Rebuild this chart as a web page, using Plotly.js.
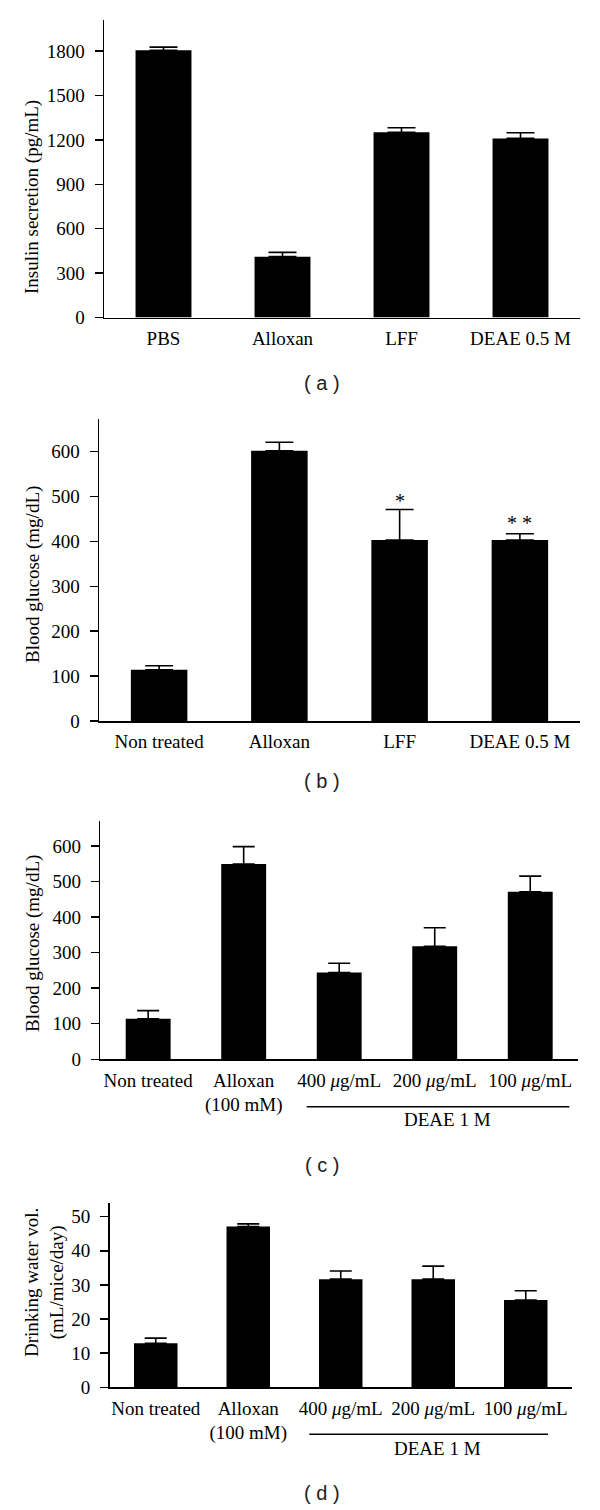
<!DOCTYPE html>
<html>
<head>
<meta charset="utf-8">
<script src="https://cdn.plot.ly/plotly-3.0.1.min.js"></script>
<style>html,body{margin:0;padding:0;background:#fff;}</style>
</head>
<body>
<div id="chart" style="width:600px;height:1510px;"></div>
<script>
// ---- Data ----
const catsA = ["PBS", "Alloxan", "LFF", "DEAE 0.5 M"];
const insulin = [1805, 411, 1251, 1210];
const insulinErr = [22, 29, 31, 38];

const catsB = ["Non treated", "Alloxan", "LFF", "DEAE 0.5 M"];
const glucoseB = [114, 602, 403, 403];
const glucoseBErr = [9, 19, 68, 14];
const starsB = ["", "", "*", "* *"];
const starsBY = [null, null, 490, 440];

const catsC = ["Non treated", "Alloxan<br>(100 mM)", "400 <i>μ</i>g/mL", "200 <i>μ</i>g/mL", "100 <i>μ</i>g/mL"];
const glucoseC = [114, 549, 244, 318, 471];
const glucoseCErr = [23, 49, 26, 52, 44];

const catsD = ["Non treated", "Alloxan<br>(100 mM)", "400 <i>μ</i>g/mL", "200 <i>μ</i>g/mL", "100 <i>μ</i>g/mL"];
const water = [12.9, 47.1, 31.7, 31.7, 25.6];
const waterErr = [1.5, 0.8, 2.4, 3.8, 2.7];

const groupLabel = "DEAE 1 M";
const panelLabels = ["( a )", "( b )", "( c )", "( d )"];
const yTitles = ["Insulin secretion (pg/mL)", "Blood glucose (mg/dL)", "Blood glucose (mg/dL)", "Drinking water vol.<br>(mL/mice/day)"];

// ---- Layout helpers ----
const W = 600, H = 1510;
const fx = px => px / W;
const fy = px => 1 - px / H;
const SERIF = "Liberation Serif, Times New Roman, serif";
const tickFont = {family: SERIF, size: 19, color: "#000"};

function barTrace(x, y, err, xa, ya, capw) {
  return {
    type: "bar", x: x, y: y, xaxis: xa, yaxis: ya,
    marker: {color: "#000", line: {width: 0}},
    error_y: {type: "data", symmetric: false, array: err, arrayminus: err.map(() => 0),
              color: "#000", thickness: 1.6, width: capw, visible: true},
    hoverinfo: "x+y", showlegend: false
  };
}

const traces = [
  barTrace(catsA, insulin, insulinErr, "x", "y", 14),
  barTrace(catsB, glucoseB, glucoseBErr, "x2", "y2", 14),
  barTrace(catsC, glucoseC, glucoseCErr, "x3", "y3", 11),
  barTrace(catsD, water, waterErr, "x4", "y4", 11)
];

function xAxis(domPx, anchor, n) {
  return {
    domain: [fx(domPx[0]), fx(domPx[1])], anchor: anchor, type: "category",
    range: [-0.5, n - 0.5], showline: true, linecolor: "#000", linewidth: 1.5,
    ticks: "", showgrid: false, zeroline: false, tickfont: tickFont,
    ticklabelstandoff: 3, fixedrange: true
  };
}
function bndAxis(over, anchor, n) {
  const tv = [];
  for (let i = 0; i < n - 1; i++) tv.push(i + 0.5);
  return {
    overlaying: over, anchor: anchor, type: "linear", range: [-0.5, n - 0.5],
    tickvals: tv, ticks: "inside", ticklen: 7, tickwidth: 1.5, tickcolor: "#000",
    showticklabels: false, showline: false, showgrid: false, zeroline: false, fixedrange: true
  };
}
function yAxis(domPx, anchor, rmax, dt) {
  return {
    domain: [fy(domPx[1]), fy(domPx[0])], anchor: anchor, range: [0, rmax],
    dtick: dt, tick0: 0, showline: true, linecolor: "#000", linewidth: 1.5,
    ticks: "outside", ticklen: 8, tickwidth: 1.5, tickcolor: "#000",
    showgrid: false, zeroline: false, tickfont: tickFont, ticklabelstandoff: 6, fixedrange: true
  };
}

const layout = {
  width: W, height: H, margin: {l: 0, r: 0, t: 0, b: 0},
  paper_bgcolor: "#fff", plot_bgcolor: "rgba(0,0,0,0)",
  bargap: 0.53, showlegend: false,
  xaxis: xAxis([104, 580], "y", catsA.length),
  yaxis: yAxis([20, 317.5], "x", 2010, 300),
  xaxis2: xAxis([99, 580], "y2", catsB.length),
  yaxis2: yAxis([419.3, 721], "x2", 672, 100),
  xaxis3: xAxis([100.4, 578], "y3", catsC.length),
  yaxis3: yAxis([820.7, 1059.3], "x3", 671, 100),
  xaxis4: xAxis([109.5, 572], "y4", catsD.length),
  yaxis4: yAxis([1202.7, 1387.3], "x4", 54.1, 10),
  xaxis5: bndAxis("x", "y", catsA.length),
  xaxis6: bndAxis("x2", "y2", catsB.length),
  xaxis7: bndAxis("x3", "y3", catsC.length),
  xaxis8: bndAxis("x4", "y4", catsD.length),
  annotations: [],
  shapes: []
};

// panel captions
const capY = [383, 781, 1165, 1493];
panelLabels.forEach((t, i) => layout.annotations.push({
  text: t, xref: "paper", yref: "paper", x: fx(322), y: fy(capY[i]),
  xanchor: "center", yanchor: "middle", showarrow: false,
  font: {family: "Liberation Sans, Arial, sans-serif", size: 20, color: "#222"}
}));

// y titles
const ytPos = [[32, 197], [33, 575], [33, 944], [44, 1283]];
yTitles.forEach((t, i) => layout.annotations.push({
  text: t, xref: "paper", yref: "paper", x: fx(ytPos[i][0]), y: fy(ytPos[i][1]),
  xanchor: "center", yanchor: "middle", textangle: -90, showarrow: false,
  font: {family: SERIF, size: 19, color: "#000"}
}));

// significance stars
starsB.forEach((s, i) => { if (s) layout.annotations.push({
  text: s, xref: "x2", yref: "y2", x: catsB[i], y: starsBY[i],
  xanchor: "center", yanchor: "middle", showarrow: false,
  font: {family: SERIF, size: 20, color: "#000"}
}); });

// group brackets (DEAE 1 M)
[["x3", "y3", 1106.7, 1119.5, 1.66, 4.41], ["x4", "y4", 1434.3, 1448, 1.66, 4.24]].forEach(g => {
  layout.shapes.push({type: "line", xref: g[0], yref: "paper", x0: g[4], x1: g[5],
    y0: fy(g[2]), y1: fy(g[2]), line: {color: "#000", width: 1.5}});
  layout.annotations.push({text: groupLabel, xref: g[0], yref: "paper",
    x: (g[4] + g[5]) / 2 + 0.1, y: fy(g[3]), xanchor: "center", yanchor: "middle",
    showarrow: false, font: {family: SERIF, size: 19, color: "#000"}});
});

Plotly.newPlot("chart", traces, layout, {staticPlot: true, displayModeBar: false});
</script>
</body>
</html>
